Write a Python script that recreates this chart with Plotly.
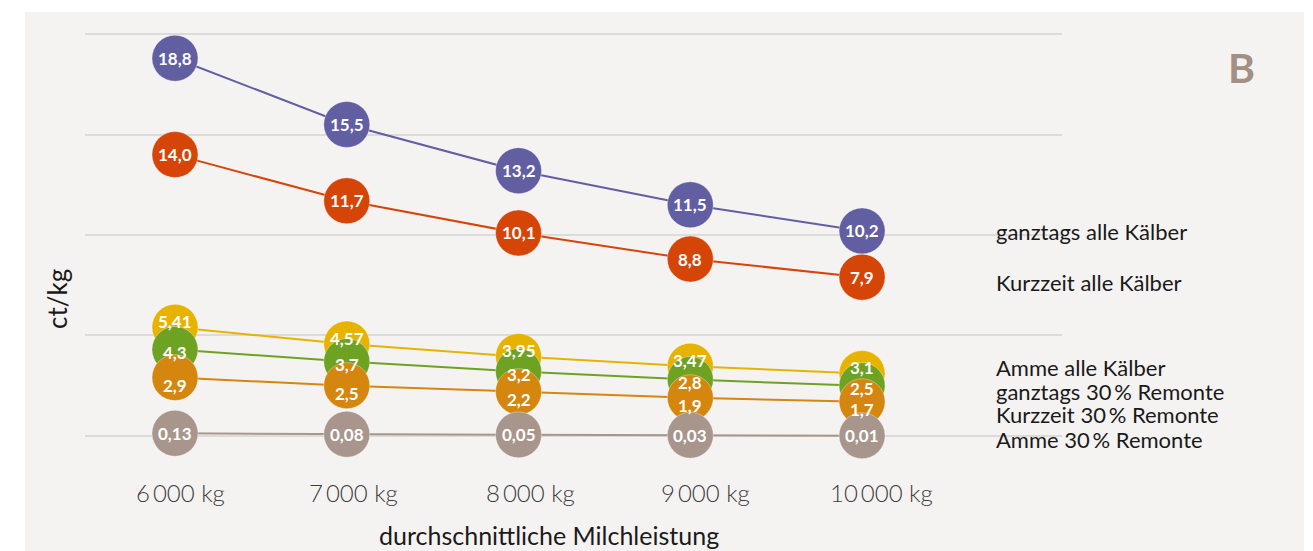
import plotly.graph_objects as go

# ---- data ----
milk_kg = [6000, 7000, 8000, 9000, 10000]
tick_labels = ["6\u2009000 kg", "7\u2009000 kg", "8\u2009000 kg", "9\u2009000 kg", "10\u2009000 kg"]

series_names = [
    "ganztags alle Kälber",
    "Kurzzeit alle Kälber",
    "Amme alle Kälber",
    "ganztags 30\u2009% Remonte",
    "Kurzzeit 30\u2009% Remonte",
    "Amme 30\u2009% Remonte",
]
ganztags_alle = [18.8, 15.5, 13.2, 11.5, 10.2]
kurzzeit_alle = [14.0, 11.7, 10.1, 8.8, 7.9]
amme_alle = [5.41, 4.57, 3.95, 3.47, 3.1]
ganztags_30 = [4.3, 3.7, 3.2, 2.8, 2.5]
kurzzeit_30 = [2.9, 2.5, 2.2, 1.9, 1.7]
amme_30 = [0.13, 0.08, 0.05, 0.03, 0.01]

# ---- style ----
colors = ["#625ea2", "#d64508", "#e6b400", "#6ea223", "#d4860f", "#a8968c"]
label_shift_px = [0, 0, 6, -3, -8, 0]   # nudge value labels into visible part of circle
tick_shift_px = [5, 7, 12, 15, 19]
label_y_paper = [0.518, 0.407, 0.217, 0.164, 0.113, 0.058]
FONT = "Lato"

all_series = [ganztags_alle, kurzzeit_alle, amme_alle, ganztags_30, kurzzeit_30, amme_30]

fig = go.Figure()

for i, vals in enumerate(all_series):
    fig.add_trace(go.Scatter(
        x=milk_kg, y=vals, mode="lines+markers",
        line=dict(color=colors[i], width=2),
        marker=dict(size=46, color=colors[i], line=dict(color="rgba(255,255,255,0.35)", width=1)),
        cliponaxis=False, showlegend=False, hoverinfo="skip",
    ))

# value labels on top of all circles
for i, vals in enumerate(all_series):
    for xv, v in zip(milk_kg, vals):
        fig.add_annotation(x=xv, y=v, xref="x", yref="y",
                           text=str(v).replace(".", ","),
                           showarrow=False, yshift=label_shift_px[i],
                           xanchor="center", yanchor="middle",
                           font=dict(family=FONT, size=17, color="white", weight=700))

# x tick labels
for xv, t, s in zip(milk_kg, tick_labels, tick_shift_px):
    fig.add_annotation(x=xv, y=(466 - 492) / 452, xref="x", yref="paper",
                       text=t, showarrow=False, xshift=s,
                       xanchor="center", yanchor="middle",
                       font=dict(family=FONT, size=24, color="#3c3c3c", weight=300))

# background panel
fig.add_shape(type="rect", xref="paper", yref="paper",
              x0=(25 - 85) / 977, x1=(1304 - 85) / 977,
              y0=(466 - 560) / 452, y1=(466 - 12) / 452,
              fillcolor="#f5f3f2", line=dict(width=0), layer="below")

# series labels
for name, yp in zip(series_names, label_y_paper):
    fig.add_annotation(x=(994 - 85) / 977, y=yp, xref="paper", yref="paper",
                       text=name, showarrow=False, xanchor="left", yanchor="middle",
                       font=dict(family=FONT, size=22, color="#1a1a1a"))

# panel letter
fig.add_annotation(x=(1241 - 85) / 977, y=(466 - 68) / 452, xref="paper", yref="paper",
                   text="<b>B</b>", showarrow=False, xanchor="center", yanchor="middle",
                   font=dict(family=FONT, size=41, color="#a38f84"))

# y axis title
fig.add_annotation(x=(57 - 85) / 977, y=(466 - 299) / 452, xref="paper", yref="paper",
                   text="ct/kg", showarrow=False, textangle=-90,
                   xanchor="center", yanchor="middle",
                   font=dict(family=FONT, size=26, color="#1a1a1a"))

# x axis title
fig.add_annotation(x=(549 - 85) / 977, y=(466 - 535) / 452, xref="paper", yref="paper",
                   text="durchschnittliche Milchleistung", showarrow=False,
                   xanchor="center", yanchor="middle",
                   font=dict(family=FONT, size=25, color="#1a1a1a"))

fig.update_layout(
    width=1313, height=551,
    margin=dict(l=85, r=251, t=14, b=85),
    paper_bgcolor="white", plot_bgcolor="rgba(0,0,0,0)",
    font=dict(family=FONT),
    xaxis=dict(range=[5476, 11164], showgrid=False, zeroline=False, showline=False,
               showticklabels=False, ticks=""),
    yaxis=dict(range=[-1.5, 21], showgrid=True, gridcolor="#dddbd9", gridwidth=1.5,
               tickmode="array", tickvals=[0, 5, 10, 15, 20],
               showticklabels=False, zeroline=False, showline=False, ticks=""),
)

fig.write_html("out.html")
